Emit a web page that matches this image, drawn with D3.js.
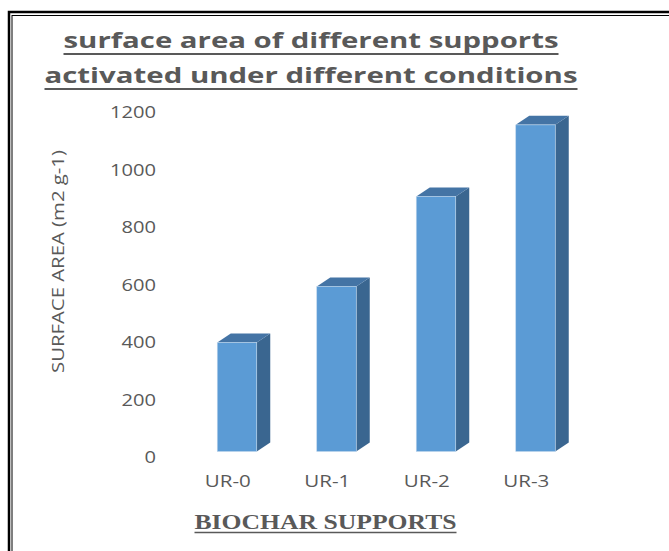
<!DOCTYPE html>
<html>
  <head>
    <meta charset="utf-8">
    <style>
      body { margin: 0; background: #fff; }
      svg { display: block; }
      .tick text { fill: #595959; font-family: "Open Sans", sans-serif; font-size: 16px; }
    </style>
    <script src="https://d3js.org/d3.v7.min.js"></script>
  </head>
  <body>
    <svg id="svg"></svg>
    <script>
      var width = 669,
          height = 551,
          depthX = 13.5,
          depthY = 9,
          barWidth = 39.5;

      // data
      var categories = ["UR-0", "UR-1", "UR-2", "UR-3"];
      var surfaceArea = [400, 595, 908, 1157];
      var yTicks = [0, 200, 400, 600, 800, 1000, 1200];
      var titleLines = ["surface area of different supports", "activated under different conditions"];
      var xTitle = "BIOCHAR SUPPORTS";
      var yTitle = "SURFACE AREA (m2 g-1)";

      var svg = d3.select("#svg")
        .attr("width", width)
        .attr("height", height);

      // double frame, only left and top edges are inside the picture
      svg.append("rect")
        .attr("x", 9).attr("y", 12)
        .attr("width", 700).attr("height", 600)
        .attr("fill", "none").attr("stroke", "#000").attr("stroke-width", 2.5);
      svg.append("rect")
        .attr("x", 12).attr("y", 15.5)
        .attr("width", 700).attr("height", 600)
        .attr("fill", "none").attr("stroke", "#000").attr("stroke-width", 1);

      var y = d3.scaleLinear()
        .domain([0, 1200])
        .range([457.5, 112.5]);

      var x = d3.scaleBand()
        .domain(categories)
        .range([178, 576]);

      // title, stretched like the original
      var titleWidths = [495, 533],
          titleBase = [48, 83];
      titleLines.forEach(function(line, i) {
        svg.append("text")
          .attr("x", 311).attr("y", titleBase[i])
          .attr("text-anchor", "middle")
          .attr("textLength", titleWidths[i])
          .attr("lengthAdjust", "spacingAndGlyphs")
          .style("font-family", "'Open Sans', sans-serif")
          .style("font-weight", "bold")
          .style("font-size", "21.5px")
          .style("fill", "#595959")
          .text(line);
        svg.append("line")
          .attr("x1", 311 - titleWidths[i] / 2).attr("x2", 311 + titleWidths[i] / 2)
          .attr("y1", titleBase[i] + 6).attr("y2", titleBase[i] + 6)
          .attr("stroke", "#595959").attr("stroke-width", 2);
      });

      // y axis
      var yAxis = svg.append("g")
        .attr("transform", "translate(156,0)")
        .call(d3.axisLeft(y).tickValues(yTicks).tickFormat(d3.format("d")).tickSize(0).tickPadding(0));
      yAxis.select(".domain").remove();
      yAxis.selectAll(".tick text")
        .attr("textLength", function(d) { return String(d).length * 11.5; })
        .attr("lengthAdjust", "spacingAndGlyphs");

      svg.append("text")
        .attr("transform", "translate(64,261.5) rotate(-90)")
        .attr("text-anchor", "middle")
        .attr("textLength", 223)
        .attr("lengthAdjust", "spacingAndGlyphs")
        .style("font-family", "'Open Sans', sans-serif")
        .style("font-size", "17px")
        .style("fill", "#595959")
        .text(yTitle);

      // x axis
      var xAxis = svg.append("g")
        .attr("transform", "translate(0,475)")
        .call(d3.axisBottom(x).tickSize(0).tickPadding(1));
      xAxis.select(".domain").remove();
      xAxis.selectAll(".tick text")
        .attr("textLength", 46)
        .attr("lengthAdjust", "spacingAndGlyphs");

      svg.append("text")
        .attr("x", 325.5).attr("y", 528.5)
        .attr("text-anchor", "middle")
        .attr("textLength", 262)
        .attr("lengthAdjust", "spacingAndGlyphs")
        .style("font-family", "'Liberation Serif', serif")
        .style("font-weight", "bold")
        .style("font-size", "20px")
        .style("fill", "#595959")
        .text(xTitle);
      svg.append("line")
        .attr("x1", 194.5).attr("x2", 456.5)
        .attr("y1", 532.5).attr("y2", 532.5)
        .attr("stroke", "#595959").attr("stroke-width", 1.5);

      // 3D columns
      var bars = svg.selectAll("g.bar")
        .data(categories.map(function(c, i) { return {cat: c, value: surfaceArea[i]}; }))
        .enter().append("g")
          .attr("class", "bar");

      function left(d) { return x(d.cat) + x.bandwidth() / 2 - 10.5; }
      var floor = y(0) - 6;

      bars.append("path")
        .attr("fill", "#3A6690")
        .attr("d", function(d) {
          var x1 = left(d) + barWidth, t = y(d.value);
          return "M" + x1 + "," + t + "L" + (x1 + depthX) + "," + (t - depthY) +
            "L" + (x1 + depthX) + "," + (floor - depthY) + "L" + x1 + "," + floor + "Z";
        });

      bars.append("path")
        .attr("fill", "#4474A5")
        .attr("d", function(d) {
          var x0 = left(d), t = y(d.value);
          return "M" + x0 + "," + t + "L" + (x0 + depthX) + "," + (t - depthY) +
            "L" + (x0 + barWidth + depthX) + "," + (t - depthY) + "L" + (x0 + barWidth) + "," + t + "Z";
        });

      bars.append("rect")
        .attr("x", left)
        .attr("y", function(d) { return y(d.value); })
        .attr("width", barWidth)
        .attr("height", function(d) { return floor - y(d.value); })
        .attr("fill", "#5B9BD5")
        .attr("stroke", "#BFD6EC")
        .attr("stroke-width", 0.6);
    </script>
  </body>
</html>
